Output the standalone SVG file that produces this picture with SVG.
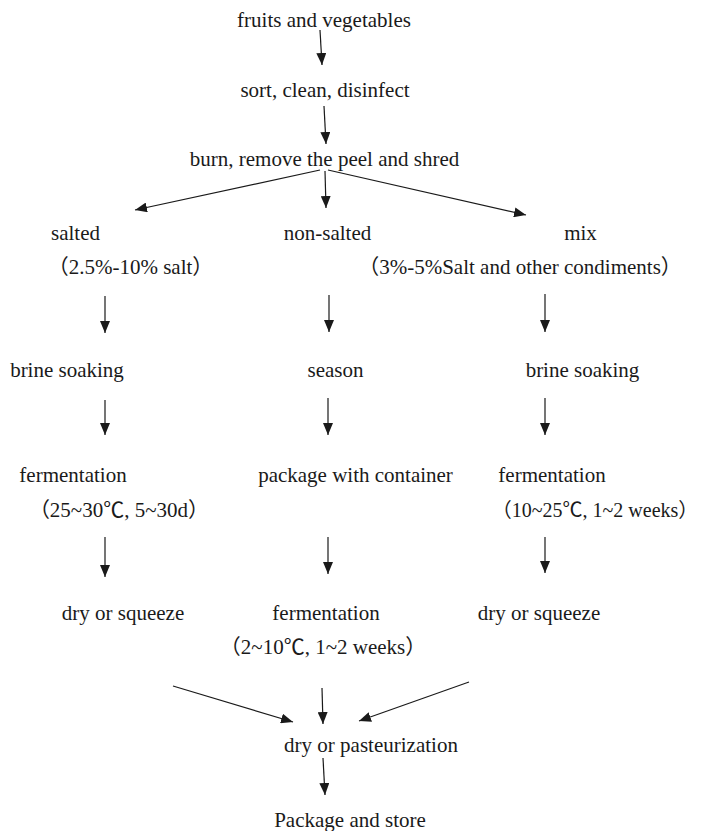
<svg xmlns="http://www.w3.org/2000/svg" width="703" height="831" viewBox="0 0 703 831">
<style>
text{font-family:"Liberation Serif","Noto Sans CJK SC",serif;font-size:21px;fill:#1a1a1a;text-anchor:middle}
.c line{stroke:#1a1a1a;stroke-width:1.2;marker-end:url(#ah)}
</style>
<defs>
<marker id="ah" markerUnits="userSpaceOnUse" markerWidth="12" markerHeight="10" refX="12" refY="5" orient="auto" viewBox="0 0 12 10">
<path d="M0,0 L12,5 L0,10 z" fill="#1a1a1a"/>
</marker>
</defs>
<rect width="703" height="831" fill="#fff"/>
<g id="n1"><text x="324" y="27">fruits and vegetables</text></g>
<g id="n2"><text x="325" y="97">sort, clean, disinfect</text></g>
<g id="n3"><text x="324.5" y="166">burn, remove the peel and shred</text></g>
<g id="n4"><text x="75.5" y="240">salted</text><text x="130.5" y="274">（2.5%-10% salt）</text></g>
<g id="n5"><text x="327.5" y="240">non-salted</text></g>
<g id="n6"><text x="580.5" y="240">mix</text><text x="520" y="274">（3%-5%Salt and other condiments）</text></g>
<g id="n7"><text x="67" y="377">brine soaking</text></g>
<g id="n8"><text x="335.5" y="377">season</text></g>
<g id="n9"><text x="582.5" y="377">brine soaking</text></g>
<g id="n10"><text x="73" y="482">fermentation</text><text x="119" y="517">（25~30℃, 5~30d）</text></g>
<g id="n11"><text x="355.5" y="482">package with container</text></g>
<g id="n12"><text x="552" y="482">fermentation</text><text x="595" y="517" style="font-size:20px">（10~25℃, 1~2 weeks）</text></g>
<g id="n13"><text x="123" y="620">dry or squeeze</text></g>
<g id="n14"><text x="326" y="620">fermentation</text><text x="323" y="654">（2~10℃, 1~2 weeks）</text></g>
<g id="n15"><text x="539" y="620">dry or squeeze</text></g>
<g id="n16"><text x="371" y="752">dry or pasteurization</text></g>
<g id="n17"><text x="350" y="827">Package and store</text></g>
<g id="connectors" class="c">
<line x1="320" y1="30" x2="322" y2="65"/>
<line x1="324" y1="106" x2="326" y2="144"/>
<line x1="320" y1="170" x2="135" y2="210"/>
<line x1="325" y1="171" x2="326" y2="208"/>
<line x1="328" y1="170" x2="526" y2="215"/>
<line x1="105" y1="296" x2="105" y2="333"/>
<line x1="329" y1="295" x2="329" y2="332"/>
<line x1="545" y1="294" x2="545" y2="332"/>
<line x1="105" y1="400" x2="105" y2="435"/>
<line x1="328" y1="398" x2="328" y2="435"/>
<line x1="545" y1="398" x2="545" y2="435"/>
<line x1="105" y1="537" x2="105" y2="577"/>
<line x1="328" y1="537" x2="328" y2="574"/>
<line x1="545" y1="537" x2="545" y2="573"/>
<line x1="173" y1="686" x2="293" y2="722"/>
<line x1="322" y1="688" x2="323" y2="724"/>
<line x1="469" y1="682" x2="359" y2="721"/>
<line x1="323" y1="758" x2="325" y2="795"/>
</g>
</svg>
